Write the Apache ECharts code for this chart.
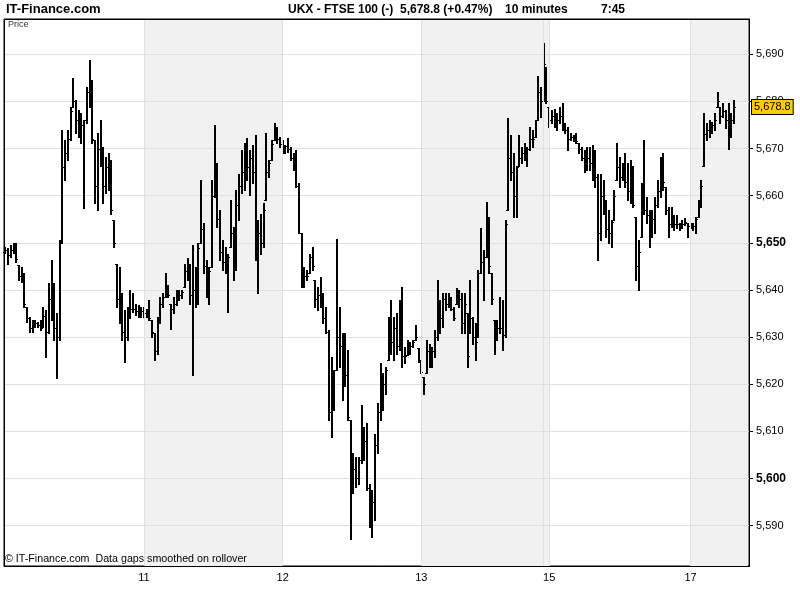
<!DOCTYPE html>
<html><head><meta charset="utf-8">
<script src="https://cdn.jsdelivr.net/npm/echarts@6/dist/echarts.min.js"></script>
<style>html,body{margin:0;padding:0;background:#fff}#c{width:800px;height:600px}</style>
</head><body><div id="c"></div>
<script>
// ---- data ----
const days = ['10','11','12','13','15','17'];
const barsPerDay = [51,51,51,47,52,17];
const slotCount = 274;
const yTicks = [5590,5600,5610,5620,5630,5640,5650,5660,5670,5680,5690];
const boldTicks = [5600,5650];
const lastPrice = 5678.8;

const opens = [
5648.0,5648.5,5647.5,5648.5,5649.0,5645.3,5643.0,5642.5,5636.4,5634.0,
5632.0,5632.5,5633.0,5632.5,5632.2,5634.5,5631.0,5638.0,5636.0,5632.0,
5630.0,5650.0,5666.0,5669.0,5672.0,5678.9,5680.0,5676.0,5674.0,5675.0,
5676.0,5682.0,5680.0,5671.8,5662.0,5670.0,5667.0,5662.0,5666.0,5664.0,
5654.8,5645.6,5638.0,5635.0,5631.0,5630.0,5635.0,5636.0,5636.0,5635.5,
5635.0,5635.5,5635.0,5635.5,5633.6,5630.8,5627.0,5633.0,5637.0,5638.5,
5640.0,5637.1,5636.0,5637.0,5638.0,5639.0,5640.7,5644.0,5643.0,5639.0,
5640.0,5638.0,5649.9,5653.0,5645.0,5640.0,5644.9,5660.0,5664.0,5655.0,
5648.0,5646.0,5647.0,5649.2,5652.0,5651.0,5658.0,5662.0,5665.0,5668.0,
5666.0,5668.0,5665.0,5648.0,5652.0,5650.0,5659.1,5665.0,5667.6,5671.8,
5673.0,5672.0,5671.0,5670.0,5670.5,5670.0,5668.0,5667.0,5662.0,5652.0,
5642.0,5643.0,5643.5,5647.0,5642.1,5638.0,5639.0,5638.0,5634.0,5631.0,
5614.0,5616.0,5623.0,5630.0,5628.0,5627.0,5622.0,5612.4,5600.0,5602.0,
5600.0,5604.0,5606.0,5608.0,5598.0,5592.0,5595.0,5607.0,5614.0,5620.0,
5620.0,5625.1,5631.0,5629.0,5632.0,5628.0,5636.0,5626.0,5626.2,5628.0,
5628.0,5629.3,5627.6,5625.0,5621.6,5622.3,5627.0,5625.0,5627.0,5630.0,
5636.0,5634.0,5638.0,5637.0,5638.0,5636.0,5637.1,5639.0,5638.0,5633.0,
5635.0,5630.8,5634.0,5630.0,5630.1,5643.5,5646.0,5647.0,5652.0,5643.5,
5633.6,5630.0,5632.0,5632.0,5630.5,5656.9,5668.0,5665.0,5660.0,5666.2,
5668.0,5669.0,5668.0,5670.0,5672.0,5672.5,5676.0,5682.0,5680.0,5687.4,
5678.9,5676.0,5677.0,5675.0,5676.0,5677.0,5675.0,5674.0,5672.0,5672.5,
5672.0,5671.1,5670.0,5668.0,5666.0,5668.0,5667.0,5668.0,5664.0,5652.0,
5660.0,5657.0,5653.0,5652.0,5654.8,5663.3,5666.0,5664.0,5665.0,5663.0,
5661.0,5665.0,5655.5,5645.0,5651.3,5660.0,5657.0,5656.0,5652.0,5655.0,
5658.0,5661.0,5665.0,5661.9,5657.0,5654.0,5655.0,5654.0,5654.0,5653.5,
5654.0,5654.1,5653.5,5653.5,5653.5,5655.5,5658.0,5666.2,5673.0,5674.0,
5674.0,5675.0,5678.9,5678.9,5677.0,5678.0,5676.0,5674.0,5676.0];

const highs = [
5649.2,5648.8,5649.5,5650.0,5650.0,5645.3,5644.9,5643.5,5636.4,5634.3,
5633.6,5633.6,5633.2,5633.6,5636.4,5635.7,5641.4,5646.3,5641.4,5635.0,
5650.6,5673.9,5671.8,5673.9,5678.9,5684.9,5680.3,5678.2,5677.5,5676.0,
5683.1,5688.9,5684.5,5671.8,5673.2,5676.0,5670.4,5668.3,5669.0,5667.6,
5654.8,5645.6,5644.9,5639.3,5635.7,5636.4,5640.0,5639.3,5637.1,5636.8,
5636.4,5636.4,5636.0,5637.8,5633.6,5630.8,5634.3,5638.5,5639.3,5643.5,
5641.1,5637.1,5638.5,5640.0,5640.0,5640.0,5645.6,5646.7,5645.6,5649.5,
5644.9,5649.9,5663.3,5654.1,5646.3,5644.9,5663.3,5675.0,5666.9,5656.9,
5650.6,5649.2,5647.7,5659.0,5653.4,5661.2,5664.7,5669.7,5671.1,5672.2,
5669.7,5670.8,5672.9,5654.8,5656.2,5658.4,5673.2,5667.6,5671.8,5675.4,
5674.6,5672.5,5671.8,5670.8,5672.2,5670.4,5669.0,5669.7,5662.6,5652.0,
5644.9,5644.2,5647.7,5649.2,5642.1,5640.7,5642.8,5639.3,5636.4,5631.5,
5625.8,5623.0,5650.9,5636.4,5630.8,5630.8,5627.3,5612.4,5605.3,5604.6,
5604.6,5615.5,5611.0,5611.7,5598.9,5597.5,5609.5,5615.9,5624.4,5622.3,
5623.7,5634.3,5637.8,5634.3,5635.0,5637.8,5640.7,5627.9,5629.3,5629.0,
5629.3,5632.5,5627.6,5625.1,5621.6,5629.3,5628.6,5627.9,5631.5,5642.1,
5637.8,5639.3,5639.3,5639.3,5638.5,5636.4,5640.4,5640.0,5639.3,5639.3,
5635.0,5642.1,5634.3,5632.9,5644.2,5653.1,5648.4,5658.7,5655.5,5643.5,
5633.6,5633.6,5638.5,5637.8,5654.8,5676.4,5672.9,5669.0,5666.2,5672.9,
5670.4,5671.1,5670.4,5674.6,5673.9,5676.0,5685.3,5683.1,5692.3,5687.4,
5678.9,5678.2,5678.5,5677.5,5678.9,5679.6,5675.4,5674.6,5673.2,5672.9,
5673.2,5671.1,5670.4,5669.7,5670.4,5670.4,5670.8,5669.7,5664.7,5664.7,
5663.3,5659.1,5656.9,5654.8,5661.2,5671.1,5668.3,5666.9,5669.0,5666.9,
5667.6,5666.2,5655.5,5650.6,5662.6,5671.8,5659.8,5656.9,5656.9,5659.8,
5663.3,5668.3,5669.0,5661.9,5657.6,5657.6,5655.9,5655.9,5654.1,5654.8,
5655.2,5654.1,5654.1,5654.1,5655.5,5659.1,5663.3,5677.5,5675.4,5676.0,
5675.7,5677.5,5682.1,5678.9,5679.6,5678.2,5679.6,5677.5,5680.3];

const lows = [
5647.8,5645.6,5647.0,5647.8,5646.0,5642.1,5641.7,5636.4,5633.2,5631.1,
5631.1,5632.2,5632.2,5631.5,5632.2,5625.8,5630.8,5633.6,5629.4,5621.2,
5629.4,5649.9,5663.3,5667.6,5671.8,5678.9,5673.2,5672.5,5671.1,5657.3,
5675.4,5678.9,5671.1,5658.4,5657.0,5666.2,5658.4,5660.5,5661.2,5656.2,
5649.2,5636.4,5632.9,5629.4,5624.7,5629.4,5634.0,5635.4,5634.6,5634.3,
5634.3,5634.3,5634.3,5633.6,5630.1,5625.1,5626.5,5632.9,5636.4,5638.5,
5638.5,5631.8,5635.0,5636.8,5637.8,5638.2,5640.7,5642.1,5637.1,5621.9,
5636.4,5637.1,5649.9,5643.5,5638.5,5637.1,5644.9,5659.8,5653.4,5646.3,
5644.2,5643.5,5635.4,5649.2,5642.1,5644.2,5654.8,5660.5,5661.2,5663.3,
5660.1,5662.6,5646.3,5639.3,5647.7,5649.2,5659.1,5664.0,5667.6,5671.8,
5671.1,5670.4,5669.0,5669.0,5669.3,5667.6,5665.4,5661.9,5652.0,5640.7,
5640.7,5642.1,5643.5,5644.2,5636.4,5635.7,5636.4,5632.9,5630.8,5612.4,
5608.8,5614.5,5623.0,5623.7,5616.6,5619.5,5612.4,5587.2,5596.8,5598.2,
5598.9,5603.2,5603.9,5597.5,5589.7,5587.6,5591.1,5605.3,5612.4,5614.5,
5618.0,5625.1,5626.5,5625.1,5626.5,5627.2,5623.7,5624.4,5626.2,5626.5,
5627.9,5629.3,5624.8,5622.3,5618.0,5622.3,5623.7,5623.7,5625.8,5629.3,
5630.8,5632.2,5635.7,5636.4,5635.7,5633.6,5637.1,5636.4,5630.8,5630.8,
5623.7,5630.8,5628.6,5625.1,5630.1,5643.5,5637.8,5647.0,5643.5,5637.1,
5626.5,5629.3,5630.8,5627.2,5630.0,5656.9,5663.3,5655.5,5655.5,5666.2,
5666.9,5667.6,5666.2,5669.7,5670.4,5672.5,5676.0,5676.8,5680.0,5679.6,
5674.6,5675.4,5674.6,5673.9,5675.4,5673.9,5673.2,5669.7,5671.8,5671.5,
5671.1,5669.0,5667.6,5665.1,5665.4,5665.4,5663.3,5661.9,5646.3,5650.6,
5656.2,5651.3,5649.9,5649.2,5654.8,5663.3,5661.9,5663.3,5661.9,5659.1,
5658.4,5657.6,5642.1,5640.0,5651.3,5656.2,5654.1,5649.2,5651.3,5652.0,
5657.6,5659.8,5661.2,5656.2,5651.3,5653.4,5652.7,5653.1,5652.7,5653.1,
5653.8,5651.3,5653.1,5652.7,5652.0,5655.5,5657.6,5666.2,5671.8,5672.5,
5673.2,5673.9,5678.9,5675.4,5676.8,5674.3,5670.0,5672.5,5675.4];

const closes = [
5648.5,5647.5,5648.5,5649.0,5646.5,5643.0,5642.5,5637.0,5634.0,5632.0,
5632.5,5633.0,5632.5,5632.0,5634.5,5631.0,5638.0,5636.0,5632.0,5630.0,
5650.0,5666.0,5669.0,5672.0,5678.0,5680.0,5676.0,5674.0,5675.0,5676.0,
5682.0,5680.0,5672.0,5662.0,5670.0,5667.0,5662.0,5666.0,5664.0,5657.0,
5650.0,5638.0,5635.0,5631.0,5630.0,5635.0,5636.0,5636.0,5635.5,5635.0,
5635.5,5635.0,5635.5,5634.0,5631.0,5627.0,5633.0,5637.0,5638.5,5640.0,
5639.0,5636.0,5637.0,5638.0,5639.0,5639.5,5644.0,5643.0,5639.0,5640.0,
5638.0,5649.0,5653.0,5645.0,5640.0,5644.0,5660.0,5664.0,5655.0,5648.0,
5646.0,5647.0,5647.0,5652.0,5651.0,5658.0,5662.0,5665.0,5668.0,5666.0,
5668.0,5665.0,5648.0,5652.0,5650.0,5657.0,5665.0,5667.0,5671.0,5673.0,
5672.0,5671.0,5670.0,5670.5,5670.0,5668.0,5667.0,5662.0,5652.0,5642.0,
5643.0,5643.0,5647.0,5645.0,5638.0,5639.0,5638.0,5634.0,5631.0,5614.0,
5616.0,5623.0,5630.0,5628.0,5627.0,5622.0,5613.0,5600.0,5602.0,5600.0,
5604.0,5606.0,5608.0,5598.0,5592.0,5595.0,5607.0,5614.0,5620.0,5620.0,
5623.0,5631.0,5629.0,5632.0,5628.0,5636.0,5626.0,5626.0,5628.0,5628.0,
5629.0,5630.0,5625.0,5622.5,5620.0,5627.0,5625.0,5627.0,5630.0,5636.0,
5634.0,5638.0,5637.0,5638.0,5636.0,5634.0,5639.0,5638.0,5633.0,5637.0,
5626.0,5634.0,5630.0,5629.0,5643.5,5646.0,5647.0,5652.0,5645.0,5638.0,
5630.0,5632.0,5632.0,5630.5,5654.0,5668.0,5665.0,5660.0,5666.0,5668.0,
5669.0,5668.0,5670.0,5672.0,5672.0,5676.0,5682.0,5680.0,5688.0,5680.0,
5676.0,5677.0,5675.0,5676.0,5677.0,5675.0,5674.0,5672.0,5672.5,5672.0,
5671.5,5670.0,5668.0,5666.0,5668.0,5667.0,5668.0,5664.0,5652.0,5660.0,
5657.0,5653.0,5652.0,5654.5,5660.0,5666.0,5664.0,5665.0,5663.0,5661.0,
5665.0,5658.0,5645.0,5648.0,5660.0,5657.0,5656.0,5652.0,5655.0,5658.0,
5661.0,5665.0,5663.0,5657.0,5654.0,5655.0,5654.0,5654.0,5653.5,5654.0,
5654.5,5653.5,5653.5,5653.5,5655.0,5658.0,5662.0,5673.0,5674.0,5674.0,
5675.0,5676.0,5680.0,5677.0,5678.0,5676.0,5674.0,5676.0,5678.8];

// ---- build ----
const dayStart = [];
let acc = 0;
barsPerDay.forEach(n => { dayStart.push(acc); acc += n; });
const labelledStarts = dayStart.slice(1);
const categories = [];
days.forEach((d, k) => {
  for (let j = 0; j < barsPerDay[k]; j++) {
    const m = 8 * 60 + 10 * j;
    categories.push(d + ' ' + String(Math.floor(m / 60)).padStart(2, '0') + ':' + String(m % 60).padStart(2, '0'));
  }
});
for (let j = categories.length; j < slotCount; j++) categories.push('17 ~' + j);

const ohlc = highs.map((h, i) => [i, opens[i], h, lows[i], closes[i]]);

const shadeAreas = [];
for (let k = 1; k < days.length; k += 2) {
  const a = dayStart[k];
  const b = k + 1 < days.length ? dayStart[k + 1] : slotCount - 1;
  shadeAreas.push([{ xAxis: categories[a] }, { xAxis: categories[b] }]);
}
const vLines = dayStart.slice(1).map(i => ({ xAxis: categories[i] }));
vLines.push({ xAxis: categories[dayStart[4] - 2] });

function fmtNum(v) {
  return String(Math.round(v)).replace(/\B(?=(\d{3})+(?!\d))/g, ',');
}

const FONT = '"Liberation Sans", Arial, sans-serif';

const chart = echarts.init(document.getElementById('c'), null, { renderer: 'canvas' });
chart.setOption({
  animation: false,
  backgroundColor: '#fff',
  grid: { left: 4, right: 51, top: 19, bottom: 34, show: true, backgroundColor: '#fff', borderColor: '#000', borderWidth: 1 },
  xAxis: {
    type: 'category', data: categories, boundaryGap: true, z: 2,
    axisLine: { show: true, lineStyle: { color: '#000' } },
    axisTick: { show: false },
    splitLine: { show: false },
    axisLabel: {
      interval: (i) => labelledStarts.indexOf(i) >= 0,
      formatter: (v) => v.split(' ')[0],
      color: '#000', fontSize: 11, fontFamily: FONT, margin: 6
    }
  },
  yAxis: {
    type: 'value', position: 'right', min: 5581.4, max: 5697.5,
    splitNumber: 12, minInterval: 10, maxInterval: 10, z: 2,
    axisLine: { show: true, lineStyle: { color: '#000' } },
    axisTick: { show: true, length: 4, lineStyle: { color: '#000' } },
    splitLine: { show: true, lineStyle: { color: '#e0e0e0' } },
    axisLabel: {
      margin: 7, color: '#000', fontSize: 11, fontFamily: FONT,
      showMinLabel: false, showMaxLabel: false,
      formatter: (v) => {
        if (yTicks.indexOf(Math.round(v)) < 0 || Math.abs(v - Math.round(v)) > 0.01) return '';
        return boldTicks.indexOf(Math.round(v)) >= 0 ? '{b|' + fmtNum(v) + '}' : fmtNum(v);
      },
      rich: { b: { fontWeight: 'bold', fontSize: 12, fontFamily: FONT, color: '#000' } }
    }
  },
  series: [
    {
      type: 'line', data: [], z: 1, silent: true,
      markArea: { silent: true, itemStyle: { color: '#f1f1f1' }, data: shadeAreas }
    },
    {
      type: 'line', data: [], z: 2, silent: true,
      markLine: {
        silent: true, symbol: ['none', 'none'], label: { show: false },
        lineStyle: { color: '#e0e0e0', type: 'solid', width: 1 }, data: vLines
      }
    },
    {
      type: 'custom', z: 3, data: ohlc,
      encode: { x: 0, y: [1, 2, 3, 4] },
      renderItem: function (params, api) {
        const i = api.value(0);
        const cx = api.coord([i, api.value(2)]);
        const px = Math.round(cx[0] - 1);
        const yh = Math.round(cx[1]);
        const yl = Math.round(api.coord([i, api.value(3)])[1]);
        const yo = Math.round(api.coord([i, api.value(1)])[1]);
        const yc = Math.round(api.coord([i, api.value(4)])[1]);
        const st = { fill: '#000' };
        return {
          type: 'group', children: [
            { type: 'rect', shape: { x: px, y: yh, width: 2, height: Math.max(1, yl - yh + 1) }, style: st },
            { type: 'rect', shape: { x: px - 1, y: yo, width: 1, height: 1 }, style: st },
            { type: 'rect', shape: { x: px + 2, y: yc, width: 1, height: 1 }, style: st }
          ]
        };
      }
    },
    {
      type: 'line', data: [], z: 10, silent: true,
      markLine: {
        silent: true, symbol: ['none', 'none'],
        lineStyle: { color: 'rgba(0,0,0,0)', width: 1 },
        label: {
          show: true, position: 'end', distance: 3,
          formatter: () => lastPrice.toLocaleString('en-US', { minimumFractionDigits: 1 }),
          backgroundColor: '#FFCC00', borderColor: '#000', borderWidth: 1,
          padding: [2, 2, 1, 2], color: '#000', fontSize: 11, fontFamily: FONT
        },
        data: [{ yAxis: lastPrice }]
      }
    }
  ],
  graphic: [
    { type: 'rect', z: 100, silent: true, shape: { x: 4.5, y: 19.5, width: 745, height: 547 }, style: { fill: null, stroke: '#000', lineWidth: 1 } },
    { type: 'text', left: 6, top: 3, style: { text: 'IT-Finance.com', font: 'bold 13px ' + FONT, fill: '#000' } },
    { type: 'text', left: 288, top: 4, style: { text: 'UKX - FTSE 100 (-)', font: 'bold 12px ' + FONT, fill: '#000' } },
    { type: 'text', left: 400, top: 4, style: { text: '5,678.8 (+0.47%)', font: 'bold 12px ' + FONT, fill: '#000' } },
    { type: 'text', left: 505, top: 4, style: { text: '10 minutes', font: 'bold 12px ' + FONT, fill: '#000' } },
    { type: 'text', left: 601, top: 4, style: { text: '7:45', font: 'bold 12px ' + FONT, fill: '#000' } },
    { type: 'text', left: 8, top: 20, style: { text: 'Price', font: '9px ' + FONT, fill: '#333' } },
    { type: 'text', left: 5, top: 554, z: 101, style: { text: '\u00a9 IT-Finance.com  Data gaps smoothed on rollover', font: '10.7px ' + FONT, fill: '#000' } }
  ]
});
</script>
</body></html>
